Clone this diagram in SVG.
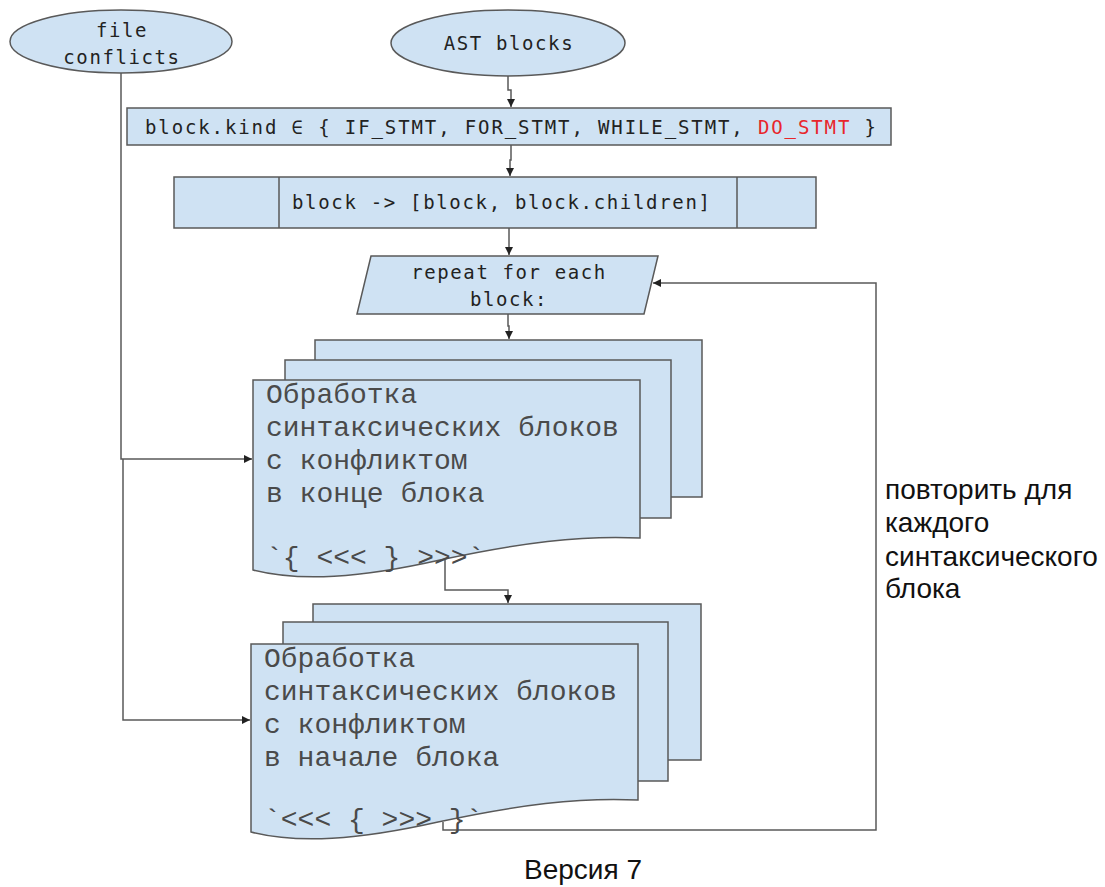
<svg xmlns="http://www.w3.org/2000/svg" width="1105" height="887" viewBox="0 0 1105 887">
<style>
.shape{fill:#cfe2f3;stroke:#595959;stroke-width:1.5}
.line{fill:none;stroke:#595959;stroke-width:1.5}
.code{font-family:"DejaVu Sans Mono","Liberation Mono",monospace;font-size:19px;fill:#222;letter-spacing:1.6px}
.doc{font-family:"Liberation Mono",monospace;font-size:28px;fill:#4a4a4a}
.lbl{font-family:"Liberation Sans",Arial,sans-serif;font-size:28px;fill:#111}
</style>
<defs>
<marker id="arr" viewBox="0 0 10 10" refX="10" refY="5" markerWidth="8" markerHeight="8" markerUnits="userSpaceOnUse" orient="auto">
<path d="M0,0 L10,5 L0,10 Z" fill="#222"/>
</marker>
</defs>
<rect width="1105" height="887" fill="#fff"/>
<g id="connectors">
<path class="line" d="M508,76 V90 H511 V107" marker-end="url(#arr)"/>
<path class="line" d="M511,145 V160 H510 V176" marker-end="url(#arr)"/>
<path class="line" d="M509,228 V255" marker-end="url(#arr)"/>
<path class="line" d="M508,314 V326 H509 V339" marker-end="url(#arr)"/>
<path class="line" d="M121,73 V459 H252" marker-end="url(#arr)"/>
<path class="line" d="M123,459 V720 H250" marker-end="url(#arr)"/>
<path class="line" d="M445,560 V590 H508 V603" marker-end="url(#arr)"/>
<path class="line" d="M443,822 V830 H876 V283 H653" marker-end="url(#arr)"/>
</g>
<g id="file-conflicts">
<ellipse class="shape" cx="121" cy="41.5" rx="111" ry="31.5"/>
<text class="code" x="122" y="37" text-anchor="middle">file</text>
<text class="code" x="122" y="64" text-anchor="middle">conflicts</text>
</g>
<g id="ast-blocks">
<ellipse class="shape" cx="508" cy="43" rx="117" ry="33"/>
<text class="code" x="509" y="50" text-anchor="middle">AST blocks</text>
</g>
<g id="kind-filter">
<rect class="shape" x="127" y="108" width="764" height="37"/>
<text class="code" x="145" y="134" textLength="731" lengthAdjust="spacing" style="letter-spacing:0">block.kind ∈ { IF_STMT, FOR_STMT, WHILE_STMT, <tspan fill="#e8262b">DO_STMT</tspan> }</text>
</g>
<g id="expand">
<rect class="shape" x="174" y="177" width="642" height="51"/>
<line class="line" x1="279" y1="177" x2="279" y2="228"/>
<line class="line" x1="737" y1="177" x2="737" y2="228"/>
<text class="code" x="292" y="209" textLength="418" lengthAdjust="spacing" style="letter-spacing:0">block -&gt; [block, block.children]</text>
</g>
<g id="repeat">
<polygon class="shape" points="371,256 658,256 644,314 357,314"/>
<text class="code" x="509" y="279" text-anchor="middle">repeat for each</text>
<text class="code" x="509" y="306" text-anchor="middle">block:</text>
</g>
<g id="doc-end">
<rect class="shape" x="315" y="340" width="387" height="157"/>
<rect class="shape" x="285" y="360" width="386" height="158"/>
<path class="shape" d="M253,380 H640 V538 C580,535 520,543 440,560 C360,578 300,582 253,570 Z"/>
<text class="doc" x="266" y="403">Обработка</text>
<text class="doc" x="266" y="436">синтаксических блоков</text>
<text class="doc" x="266" y="469">с конфликтом</text>
<text class="doc" x="266" y="502">в конце блока</text>
<text class="doc" x="266" y="566">`{ &lt;&lt;&lt; } &gt;&gt;&gt;`</text>
</g>
<g id="doc-start">
<rect class="shape" x="313" y="604" width="388" height="156"/>
<rect class="shape" x="283" y="622" width="385" height="159"/>
<path class="shape" d="M251,644 H638 V800 C578,797 518,805 438,822 C358,840 298,844 251,832 Z"/>
<text class="doc" x="264" y="667">Обработка</text>
<text class="doc" x="264" y="700">синтаксических блоков</text>
<text class="doc" x="264" y="733">с конфликтом</text>
<text class="doc" x="264" y="766">в начале блока</text>
<text class="doc" x="264" y="828">`&lt;&lt;&lt; { &gt;&gt;&gt; }`</text>
</g>
<g id="loop-label">
<text class="lbl" x="885" y="499">повторить для</text>
<text class="lbl" x="885" y="532">каждого</text>
<text class="lbl" x="885" y="566">синтаксического</text>
<text class="lbl" x="885" y="598">блока</text>
</g>
<g id="title">
<text class="lbl" x="583" y="879" text-anchor="middle" font-size="20.5">Версия 7</text>
</g>
</svg>
